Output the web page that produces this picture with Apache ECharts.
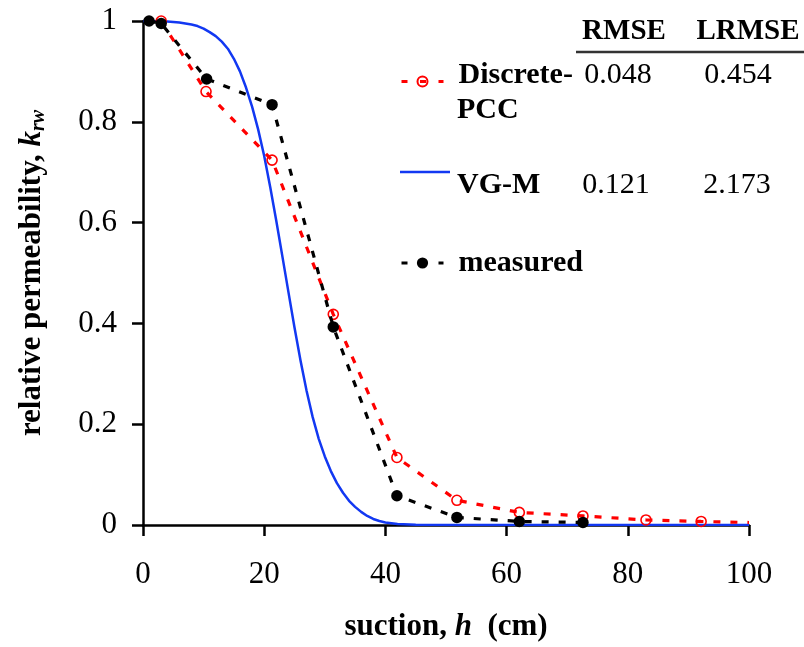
<!DOCTYPE html>
<html>
<head>
<meta charset="utf-8">
<script src="https://cdn.jsdelivr.net/npm/echarts@6/dist/echarts.min.js"></script>
<style>
html,body{margin:0;padding:0;background:#fff;}
#chart{width:804px;height:647px;}
</style>
</head>
<body>
<div id="chart"></div>
<script>
// ---- data ----
const xTickValues = [0, 20, 40, 60, 80, 100];
const xTickLabels = ['0', '20', '40', '60', '80', '100'];
const yTickValues = [0, 0.2, 0.4, 0.6, 0.8, 1];
const yTickLabels = ['0', '0.2', '0.4', '0.6', '0.8', '1'];

const measuredH = [1, 3, 10.5, 21.3, 31.4, 41.9, 51.8, 62.1, 72.6];
const measuredK = [1.0, 0.995, 0.885, 0.834, 0.393, 0.058, 0.015, 0.007, 0.005];

const pccH = [3, 10.4, 21.3, 31.4, 41.9, 51.8, 62.1, 72.6, 83.0, 92.1, 100];
const pccK = [1.0, 0.860, 0.724, 0.418, 0.134, 0.049, 0.025, 0.018, 0.010, 0.007, 0.005];

const vgH = [0, 4, 6, 8, 9, 10, 11, 12, 13, 14, 15, 16, 17, 18, 19, 20, 21, 22, 23, 24, 25, 26, 27, 28, 29, 30, 31, 32, 33, 34, 35, 36, 37, 38, 39, 40, 42, 45, 50, 60, 80, 100];
const vgK = [1, 0.999, 0.997, 0.993, 0.99, 0.985, 0.978, 0.97, 0.959, 0.945, 0.925, 0.9, 0.868, 0.83, 0.785, 0.732, 0.67, 0.603, 0.533, 0.462, 0.392, 0.326, 0.266, 0.214, 0.171, 0.136, 0.107, 0.083, 0.064, 0.048, 0.036, 0.026, 0.018, 0.012, 0.008, 0.005, 0.002, 0.0005, 0, 0, 0, 0];

const seriesNames = ['Discrete-PCC', 'VG-M', 'measured'];
const tableHeaders = ['RMSE', 'LRMSE'];
const rmseValues = ['0.048', '0.121'];
const lrmseValues = ['0.454', '2.173'];

// ---- styling ----
const SERIF = '"Liberation Serif", "Times New Roman", serif';
const RED = '#ff0000';
const BLUE = '#1238f2';
const BLACK = '#000000';

const zip = (xs, ys) => xs.map((x, i) => [x, ys[i]]);

const chart = echarts.init(document.getElementById('chart'), null, {renderer: 'canvas'});

const option = {
  backgroundColor: '#fff',
  animation: false,
  grid: {left: 143, right: 55, top: 21, bottom: 121, containLabel: false},
  xAxis: {
    type: 'value', min: 0, max: 100, interval: 20,
    name: '{a|suction, }{b|h}{a|  (cm)}',
    nameLocation: 'middle', nameGap: 86,
    nameTextStyle: {
      rich: {
        a: {fontFamily: SERIF, fontSize: 31, fontWeight: 'bold', color: BLACK},
        b: {fontFamily: SERIF, fontSize: 31, fontWeight: 'bold', fontStyle: 'italic', color: BLACK}
      }
    },
    axisLine: {onZero: false, lineStyle: {color: BLACK, width: 2.5}},
    axisTick: {show: true, inside: false, length: 11, lineStyle: {color: BLACK, width: 2.5}},
    axisLabel: {
      margin: 34, fontFamily: SERIF, fontSize: 31, color: BLACK,
      formatter: v => { const i = xTickValues.indexOf(v); return i >= 0 ? xTickLabels[i] : ''; }
    },
    splitLine: {show: false}
  },
  yAxis: {
    type: 'value', min: 0, max: 1, interval: 0.2,
    name: '{a|relative permeability, }{b|k}{c|rw}',
    nameLocation: 'middle', nameGap: 96,
    nameTextStyle: {
      rich: {
        a: {fontFamily: SERIF, fontSize: 31, fontWeight: 'bold', color: BLACK, lineHeight: 31, verticalAlign: 'top'},
        b: {fontFamily: SERIF, fontSize: 31, fontWeight: 'bold', fontStyle: 'italic', color: BLACK, lineHeight: 31, verticalAlign: 'top'},
        c: {fontFamily: SERIF, fontSize: 20, fontWeight: 'bold', fontStyle: 'italic', color: BLACK, lineHeight: 20, verticalAlign: 'top', padding: [13, 0, 0, 0]}
      }
    },
    axisLine: {onZero: false, lineStyle: {color: BLACK, width: 2.5}},
    axisTick: {show: true, inside: false, length: 11, lineStyle: {color: BLACK, width: 2.5}},
    axisLabel: {
      margin: 26, fontFamily: SERIF, fontSize: 31, color: BLACK,
      formatter: v => {
        const i = yTickValues.findIndex(t => Math.abs(t - v) < 1e-9);
        return i >= 0 ? yTickLabels[i] : '';
      }
    },
    splitLine: {show: false}
  },
  legend: [
    {
      data: [seriesNames[0]], left: 400, top: 60, orient: 'vertical', padding: 0,
      itemWidth: 42, itemHeight: 12.5, selectedMode: false,
      lineStyle: {type: [6, 12.5], width: 3},
      formatter: () => '{t|Discrete-}',
      textStyle: {rich: {t: {fontFamily: SERIF, fontSize: 30, fontWeight: 'bold', color: BLACK, lineHeight: 30, padding: [0, 0, 13, 10]}}}
    },
    {
      data: [{name: seriesNames[1], icon: 'rect'}], left: 400, top: 144, orient: 'vertical', padding: 0,
      itemWidth: 50, itemHeight: 2.5, selectedMode: false,
      formatter: () => '{t|VG-M}',
      textStyle: {rich: {t: {fontFamily: SERIF, fontSize: 30, fontWeight: 'bold', color: BLACK, lineHeight: 30, padding: [26, 0, 0, 2]}}}
    },
    {
      data: [seriesNames[2]], left: 400, top: 248, orient: 'vertical', padding: 0,
      itemWidth: 42, itemHeight: 14, selectedMode: false,
      lineStyle: {type: [6, 12.5], width: 3},
      formatter: () => '{t|measured}',
      textStyle: {rich: {t: {fontFamily: SERIF, fontSize: 30, fontWeight: 'bold', color: BLACK, lineHeight: 30, padding: [0, 0, 0, 10]}}}
    }
  ],
  graphic: [
    {type: 'text', style: {text: 'PCC', x: 457, y: 110, textAlign: 'left', textVerticalAlign: 'middle', fontFamily: SERIF, fontSize: 30, fontWeight: 'bold', fill: BLACK}},
    {type: 'text', style: {text: tableHeaders[0], x: 624, y: 32, textAlign: 'center', textVerticalAlign: 'middle', fontFamily: SERIF, fontSize: 29, fontWeight: 'bold', fill: BLACK}},
    {type: 'text', style: {text: tableHeaders[1], x: 748, y: 32, textAlign: 'center', textVerticalAlign: 'middle', fontFamily: SERIF, fontSize: 29, fontWeight: 'bold', fill: BLACK}},
    {type: 'line', shape: {x1: 576, y1: 52, x2: 804, y2: 52}, style: {stroke: '#333', lineWidth: 2.5}},
    {type: 'text', style: {text: rmseValues[0], x: 618, y: 75, textAlign: 'center', textVerticalAlign: 'middle', fontFamily: SERIF, fontSize: 30, fill: BLACK}},
    {type: 'text', style: {text: lrmseValues[0], x: 738, y: 75, textAlign: 'center', textVerticalAlign: 'middle', fontFamily: SERIF, fontSize: 30, fill: BLACK}},
    {type: 'text', style: {text: rmseValues[1], x: 616, y: 185, textAlign: 'center', textVerticalAlign: 'middle', fontFamily: SERIF, fontSize: 30, fill: BLACK}},
    {type: 'text', style: {text: lrmseValues[1], x: 737, y: 185, textAlign: 'center', textVerticalAlign: 'middle', fontFamily: SERIF, fontSize: 30, fill: BLACK}}
  ],
  series: [
    {
      name: seriesNames[1], type: 'line', data: zip(vgH, vgK),
      showSymbol: false, symbol: 'none', smooth: false,
      lineStyle: {color: BLUE, width: 2.5, join: 'round'}, itemStyle: {color: BLUE}, z: 2
    },
    {
      name: seriesNames[0], type: 'line',
      data: zip(pccH, pccK).map((p, i) => i === pccH.length - 1 ? {value: p, symbol: 'none'} : {value: p}),
      symbol: 'circle', symbolSize: 10, showSymbol: true,
      lineStyle: {color: RED, width: 3.2, type: [7, 10]},
      itemStyle: {color: 'rgba(255,255,255,0)', borderColor: RED, borderWidth: 1.6}, z: 3
    },
    {
      name: seriesNames[2], type: 'line', data: zip(measuredH, measuredK),
      symbol: 'circle', symbolSize: 11.5, showSymbol: true,
      lineStyle: {color: BLACK, width: 3.2, type: [7, 10]},
      itemStyle: {color: BLACK}, z: 4
    }
  ]
};
chart.setOption(option);
</script>
</body>
</html>
